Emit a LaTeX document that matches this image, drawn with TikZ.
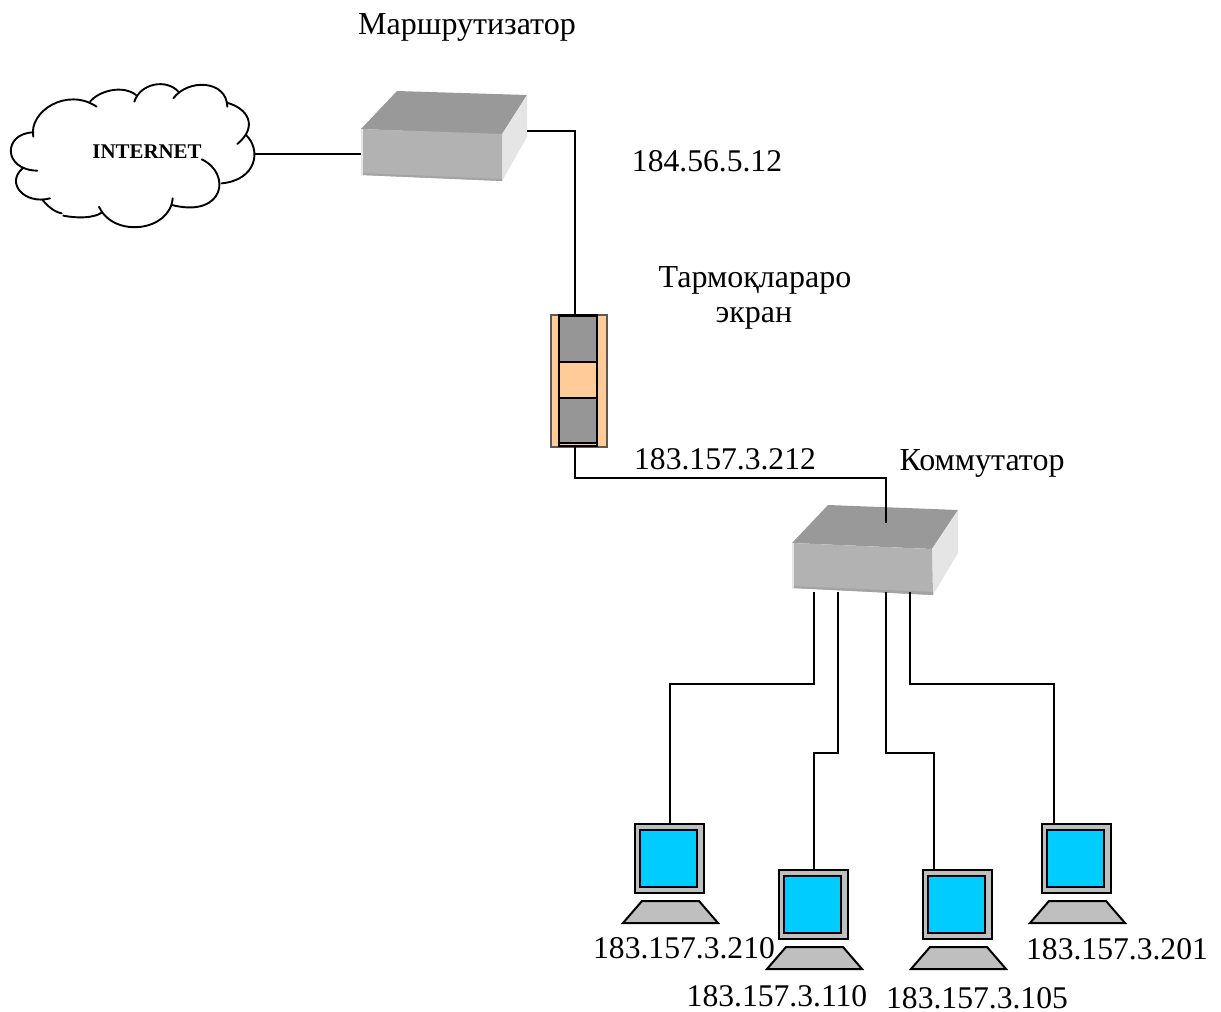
\documentclass[tikz,border=0pt]{standalone}
\usepackage{fontspec}
\setmainfont{Liberation Serif}
\tikzset{
  x=1pt,y=-1pt,
  wire/.style={line width=2pt,line join=miter,line cap=butt},
  cloudline/.style={line width=1.9pt,line cap=round},
  label/.style={anchor=base,inner sep=0pt,font=\fontsize{32}{36}\selectfont},
  iplabel/.style={anchor=base,inner sep=0pt,font=\fontsize{31.6}{36}\selectfont},
  boxtop/.style={fill=black!40},
  boxfront/.style={fill=black!30},
  boxside/.style={fill=black!10},
  boxedge/.style={fill=black!36},
  pcpart/.style={draw=black,line width=2pt,fill=black!25,line join=miter},
  pcscreen/.style={draw=black,line width=2pt,fill={rgb,255:red,0;green,204;blue,255}},
  fwouter/.style={draw=black!65,line width=1.5pt,fill={rgb,255:red,255;green,204;blue,153}},
  fwinner/.style={draw=black,line width=2.2pt,fill={rgb,255:red,255;green,204;blue,153}},
  fwgray/.style={draw=black,line width=2pt,fill=black!41},
  pics/pc/.style={code={
    \draw[pcpart] (1,1) rectangle (70,70);
    \draw[pcscreen] (6,7) rectangle (63,64);
    \draw[pcpart] (8,78) -- (65,78) -- (84,100) -- (-11,100) -- cycle;
  }}
}
\begin{document}
\begin{tikzpicture}
\useasboundingbox (0,0) rectangle (1221,1012);
% named connection points
\coordinate (cloudR) at (255,154);
\coordinate (routerL) at (361,154);
\coordinate (routerR) at (527,131);
\coordinate (fwT) at (575,315);
\coordinate (fwB) at (575,447);
\coordinate (swT) at (886,523);
\coordinate (swA) at (814,592);
\coordinate (swB) at (838,592);
\coordinate (swC) at (886,592);
\coordinate (swD) at (910,592);
\coordinate (pcA) at (670,823);
\coordinate (pcB) at (814,869);
\coordinate (pcC) at (934,869);
\coordinate (pcD) at (1054,823);
% router
\fill[boxtop] (397,91) -- (527,95) -- (502,135) -- (361,129) -- cycle;
\fill[boxside] (502,134) -- (527,95) -- (527,137) -- (502,181) -- cycle;
\fill[boxfront] (361,129) -- (502,134) -- (502,181) -- (361,175) -- cycle;
\fill[boxedge] (361,173) -- (502,179) -- (502,181) -- (361,175) -- cycle;
\fill[boxside] (361,129) -- (363,129) -- (363,175) -- (361,175) -- cycle;
% switch
\fill[boxtop] (828,505) -- (958,510) -- (932,549) -- (792,543) -- cycle;
\fill[boxside] (932,549) -- (958,510) -- (958,553) -- (933,595) -- cycle;
\fill[boxfront] (792,543) -- (932,549) -- (933,595) -- (792,588) -- cycle;
\fill[boxedge] (792,586) -- (933,592) -- (933,595) -- (792,588) -- cycle;
\fill[boxside] (792,543) -- (794,543) -- (794,588) -- (792,588) -- cycle;
% cloud
\begin{scope}[shift={(0,70)},xscale=1/3,yscale=1/3]
\draw[cloudline] (100,200) .. controls (85,125) and (200,50) .. (290,110);
\draw[cloudline] (270,95) .. controls (300,60) and (370,45) .. (408,75);
\draw[cloudline] (403,95) .. controls (420,40) and (500,25) .. (535,65);
\draw[cloudline] (520,85) .. controls (565,25) and (680,30) .. (682,110);
\draw[cloudline] (680,98) .. controls (745,115) and (775,170) .. (712,222);
\draw[cloudline] (738,195) .. controls (785,240) and (770,330) .. (665,340);
\draw[cloudline] (605,268) .. controls (695,310) and (675,445) .. (515,405);
\draw[cloudline] (518,385) .. controls (510,485) and (340,505) .. (297,410);
\draw[cloudline] (305,428) .. controls (280,445) and (230,445) .. (190,437);
\draw[cloudline] (185,430) .. controls (160,425) and (140,405) .. (128,390);
\draw[cloudline] (150,385) .. controls (75,405) and (15,340) .. (68,295);
\draw[cloudline] (112,302) .. controls (8,300) and (8,190) .. (100,187);
\end{scope}
% firewall
\draw[fwouter] (551,315) rectangle (607,447);
\draw[fwinner] (559,315) rectangle (597,446);
\draw[fwgray] (559,316) rectangle (597,362);
\draw[fwgray] (559,398) rectangle (597,443);
% computers
\pic at (634,823) {pc};
\pic at (778,869) {pc};
\pic at (922,869) {pc};
\pic at (1041,823) {pc};
% connectors
\draw[wire] (cloudR) -- (routerL);
\draw[wire] (routerR) -| (fwT);
\draw[wire] (fwB) |- (swT |- 0,478) -- (swT);
\draw[wire] (swA) |- (pcA |- 0,684) -- (pcA);
\draw[wire] (swB) |- (pcB |- 0,753) -- (pcB);
\draw[wire] (swC) |- (pcC |- 0,753) -- (pcC);
\draw[wire] (swD) |- (pcD |- 0,684) -- (pcD);
% labels
\node[anchor=base,inner sep=0pt,font=\fontsize{20.9}{24}\selectfont\bfseries] (tInternet) at (147,158) {INTERNET};
\node[label] (tRouter) at (467,34) {Маршрутизатор};
\node[iplabel] (tIp1) at (707,171) {184.56.5.12};
\node[label] (tFw1) at (755,287) {Тармоқлараро};
\node[label] (tFw2) at (754,322) {экран};
\node[iplabel] (tIp2) at (725,469) {183.157.3.212};
\node[label] (tSwitch) at (982,470) {Коммутатор};
\node[iplabel] (tA) at (684,958) {183.157.3.210};
\node[iplabel] (tB) at (777,1006) {183.157.3.110};
\node[iplabel] (tC) at (977,1008) {183.157.3.105};
\node[iplabel] (tD) at (1117,959) {183.157.3.201};
\end{tikzpicture}
\end{document}
